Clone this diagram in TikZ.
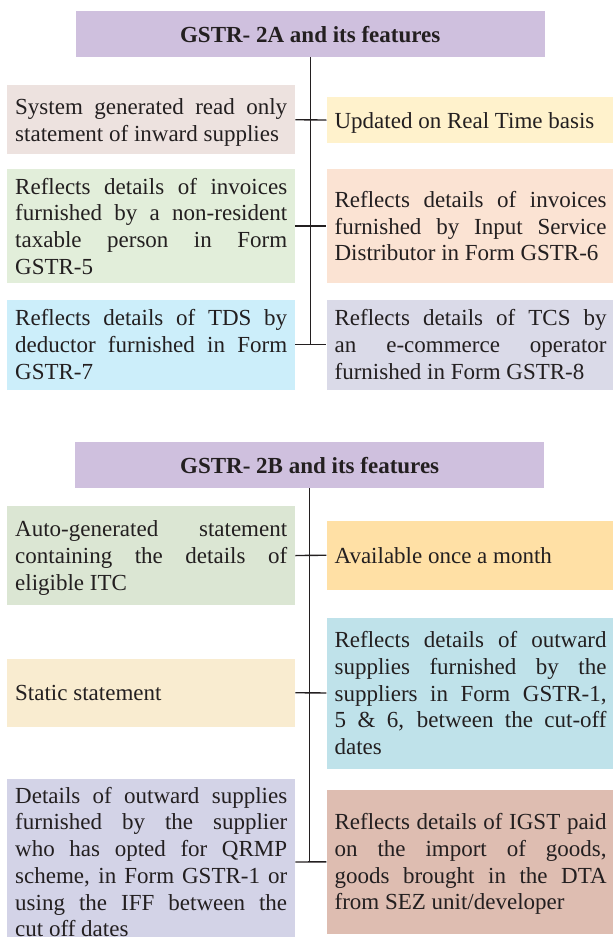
\documentclass[tikz,border=0pt]{standalone}
\usepackage{fontspec}
\setmainfont{Liberation Serif}

\definecolor{ink}{HTML}{231F20}
\definecolor{hdr}{HTML}{CFC0DE}
\definecolor{sysgen}{HTML}{EDE2DF}
\definecolor{updated}{HTML}{FFF2CC}
\definecolor{greenA}{HTML}{E2EEDA}
\definecolor{orangeA}{HTML}{FBE3D3}
\definecolor{blueA}{HTML}{CCEEFA}
\definecolor{lavA}{HTML}{DADAE8}
\definecolor{greenB}{HTML}{DBE6D3}
\definecolor{availB}{HTML}{FFE0A5}
\definecolor{blueB}{HTML}{BFE2EA}
\definecolor{staticB}{HTML}{F9ECD0}
\definecolor{lavB}{HTML}{D3D3E7}
\definecolor{brownB}{HTML}{DEBDB1}

\newcommand\featfont{\fontsize{23}{26.7}\selectfont\tolerance=10000\hbadness=10000\hyphenpenalty=10000\exhyphenpenalty=10000}
\newcommand\headfont{\fontsize{23}{26.7}\selectfont\bfseries}

\begin{document}
\begin{tikzpicture}[x=1pt,y=-1pt,
  feat/.style={anchor=north west, fill=#1, text=ink, inner xsep=8pt, inner ysep=0pt,
    text width=272pt, align=justify, font=\featfont,
    % struts keep the first ascent and the last descent the same in every box
    execute at begin node={\rule{0pt}{22pt}},
    execute at end node={\rule[-6pt]{0pt}{6pt}}},
  head/.style={anchor=north west, fill=hdr, text=ink, minimum width=469pt,
    inner sep=0pt, font=\headfont},
  link/.style={draw=ink, line width=1.4pt}]
\useasboundingbox (0,0) rectangle (613,937);
\clip (0,0) rectangle (613,937);

% ---------- GSTR-2A ----------
\node[head, minimum height=45.7pt] (hA) at (75.5,11) {GSTR- 2A and its features};

\node[feat=sysgen, minimum height=69pt] (a1l) at (7,85)
  {System generated read only\linebreak statement of inward supplies};
\node[feat=updated, minimum height=45.7pt] (a1r) at (326.4,97)
  {Updated on Real Time basis};

\node[feat=greenA, minimum height=113.7pt] (a2l) at (7,169)
  {Reflects details of invoices\linebreak furnished by a non-resident\linebreak taxable person in Form\linebreak GSTR-5};
\node[feat=orangeA, minimum height=113.7pt] (a2r) at (326.4,169)
  {Reflects details of invoices\linebreak furnished by Input Service\linebreak Distributor in Form GSTR-6};

\node[feat=blueA, minimum height=90pt] (a3l) at (7,299.3)
  {Reflects details of TDS by\linebreak deductor furnished in Form\linebreak GSTR-7};
\node[feat=lavA, minimum height=90pt] (a3r) at (326.4,299.3)
  {Reflects details of TCS by\linebreak an e-commerce operator\linebreak furnished in Form GSTR-8};

\draw[link] (hA.south) -- (hA.south |- a3l.east);
\draw[link] (a1l.east) -- (a1r.west);
\draw[link] (a2l.east) -- (a2r.west);
\draw[link] (a3l.east) -- (a3r.west);

% ---------- GSTR-2B ----------
\node[head, minimum height=45.7pt] (hB) at (75,442) {GSTR- 2B and its features};

\node[feat=greenB, minimum height=98.7pt] (b1l) at (7,506)
  {Auto-generated statement\linebreak containing the details of\linebreak eligible ITC};
\node[feat=availB, minimum height=68.6pt] (b1r) at (326.4,520.7)
  {Available once a month};

\node[feat=staticB, minimum height=68.4pt] (b2l) at (7,658.3)
  {Static statement};
\node[feat=blueB, minimum height=151pt] (b2r) at (326.4,617.3)
  {Reflects details of outward\linebreak supplies furnished by the\linebreak suppliers in Form GSTR-1,\linebreak 5 \& 6, between the cut-off\linebreak dates};

\node[feat=lavB, minimum height=167pt] (b3l) at (7,778.3)
  {Details of outward supplies\linebreak furnished by the supplier\linebreak who has opted for QRMP\linebreak scheme, in Form GSTR-1 or\linebreak using the IFF between the\linebreak cut off dates};
\node[feat=brownB, minimum height=143.3pt] (b3r) at (326.4,790)
  {Reflects details of IGST paid\linebreak on the import of goods,\linebreak goods brought in the DTA\linebreak from SEZ unit/developer};

\draw[link] (hB.south) -- (hB.south |- b3l.east);
\draw[link] (b1l.east) -- (b1r.west);
\draw[link] (b2l.east) -- (b2r.west);
\draw[link] (b3l.east) -- (b3r.west);
\end{tikzpicture}
\end{document}
